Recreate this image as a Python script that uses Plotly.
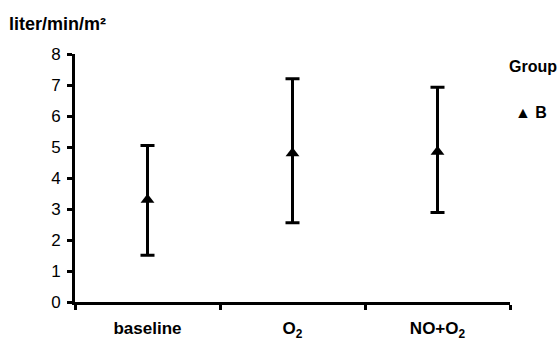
import plotly.graph_objects as go

categories = ["baseline", "O<sub>2</sub>", "NO+O<sub>2</sub>"]
means = [3.3, 4.8, 4.85]
upper = [5.05, 7.2, 6.93]
lower = [1.51, 2.56, 2.89]
y_ticks = [0, 1, 2, 3, 4, 5, 6, 7, 8]
group_name = "B"

err_plus = [u - m for u, m in zip(upper, means)]
err_minus = [m - l for m, l in zip(means, lower)]

fig = go.Figure()
fig.add_trace(go.Scatter(
    x=categories, y=means, mode="markers", name=group_name,
    marker=dict(symbol="triangle-up", size=12, color="black"),
    error_y=dict(type="data", symmetric=False, array=err_plus, arrayminus=err_minus,
                 color="black", thickness=3, width=7),
    showlegend=False,
))

fig.update_layout(
    width=560, height=345,
    margin=dict(l=75, r=50, t=54, b=43),
    plot_bgcolor="white", paper_bgcolor="white",
    font=dict(family="Liberation Sans, Arial, sans-serif", color="black"),
    xaxis=dict(type="category", range=[-0.5, 2.5], showline=True, linecolor="black", linewidth=3,
               ticks="outside", tickson="boundaries", ticklen=5, tickwidth=3, tickcolor="black",
               tickfont=dict(size=17, weight="bold"), ticklabelstandoff=9, automargin=False,
               showgrid=False, zeroline=False, fixedrange=True),
    yaxis=dict(range=[0, 8], tickvals=y_ticks, showline=True, linecolor="black", linewidth=3,
               ticks="outside", ticklen=5, tickwidth=3, tickcolor="black",
               tickfont=dict(size=17), ticklabelstandoff=3, automargin=False,
               showgrid=False, zeroline=False, fixedrange=True),
    annotations=[
        dict(text="liter/min/m²", xref="paper", yref="paper", x=-0.157, y=1.12,
             xanchor="left", yanchor="middle", showarrow=False,
             font=dict(size=18, weight="bold")),
        dict(text="Group", xref="paper", yref="paper", x=0.993, y=0.95,
             xanchor="left", yanchor="middle", showarrow=False,
             font=dict(size=16, weight="bold")),
        dict(text="▲ " + group_name, xref="paper", yref="paper", x=1.008, y=0.765,
             xanchor="left", yanchor="middle", showarrow=False,
             font=dict(size=16, weight="bold")),
    ],
)

fig.write_html("out.html", config={"displayModeBar": False},
               post_script="document.body.style.margin='0';document.body.style.overflow='hidden';")
